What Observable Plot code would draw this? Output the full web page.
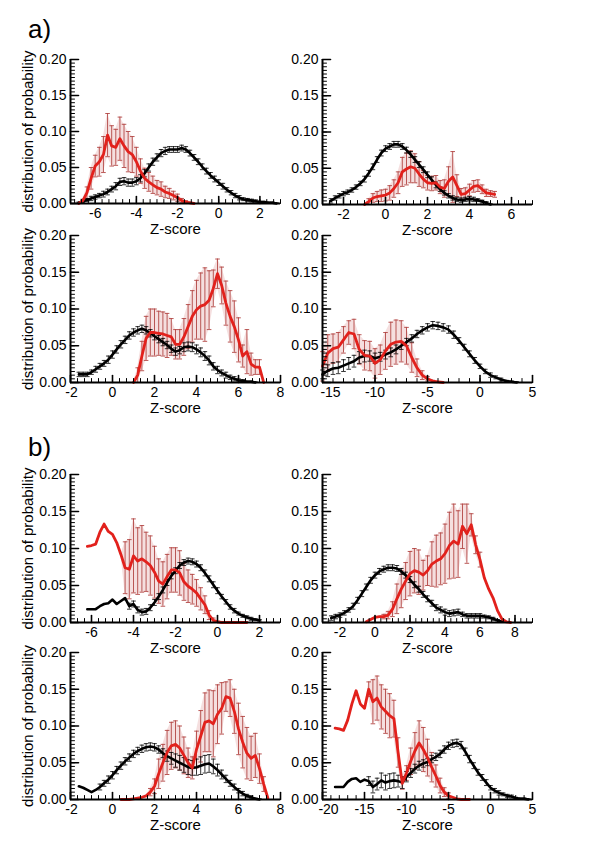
<!DOCTYPE html>
<html><head><meta charset="utf-8">
<script src="https://cdn.jsdelivr.net/npm/d3@7"></script>
<script src="https://cdn.jsdelivr.net/npm/@observablehq/plot@0.6"></script>
<style>
body{margin:0;background:#fff;}
#root{position:relative;width:600px;height:841px;font-family:"Liberation Sans",Arial,Helvetica,sans-serif;overflow:hidden;}
.tag{position:absolute;font-size:26px;line-height:1;left:28px;}
</style>
</head><body><div id="root"><div class="tag" style="top:16px">a)</div><div class="tag" style="top:434px">b)</div></div>
<script>
// [Z-score, probability, error]
const a1Black = [[-6.8,0.001,0.001],[-6.6,0.003,0.002],[-6.4,0.005,0.002],[-6.2,0.007,0.003],[-6.0,0.009,0.003],[-5.8,0.011,0.003],[-5.6,0.013,0.004],[-5.4,0.016,0.004],[-5.2,0.020,0.004],[-5.0,0.024,0.005],[-4.8,0.030,0.005],[-4.6,0.031,0.005],[-4.4,0.029,0.005],[-4.2,0.029,0.005],[-4.0,0.031,0.005],[-3.8,0.035,0.005],[-3.6,0.042,0.005],[-3.4,0.050,0.005],[-3.2,0.058,0.005],[-3.0,0.064,0.005],[-2.8,0.070,0.005],[-2.6,0.073,0.005],[-2.4,0.075,0.004],[-2.2,0.075,0.004],[-2.0,0.075,0.004],[-1.8,0.077,0.004],[-1.6,0.075,0.004],[-1.4,0.070,0.004],[-1.2,0.064,0.004],[-1.0,0.058,0.004],[-0.8,0.051,0.004],[-0.6,0.045,0.004],[-0.4,0.039,0.004],[-0.2,0.034,0.004],[0.0,0.029,0.004],[0.2,0.024,0.004],[0.4,0.019,0.003],[0.6,0.015,0.003],[0.8,0.011,0.003],[1.0,0.008,0.003],[1.2,0.006,0.002],[1.4,0.005,0.002],[1.6,0.004,0.002],[1.8,0.003,0.002],[2.0,0.002,0.001],[2.2,0.002,0.001],[2.4,0.001,0.001],[2.6,0.001,0.001],[2.8,0.000,0.001]];
const a1Red = [[-6.8,0.000,0],[-6.6,0.004,0.002],[-6.4,0.015,0.008],[-6.2,0.035,0.015],[-6.0,0.052,0.015],[-5.8,0.058,0.02],[-5.6,0.068,0.025],[-5.4,0.095,0.03],[-5.2,0.080,0.028],[-5.0,0.078,0.025],[-4.8,0.090,0.03],[-4.6,0.080,0.03],[-4.4,0.072,0.028],[-4.2,0.068,0.025],[-4.0,0.058,0.02],[-3.8,0.045,0.017],[-3.6,0.035,0.014],[-3.4,0.030,0.013],[-3.2,0.026,0.012],[-3.0,0.022,0.01],[-2.8,0.020,0.01],[-2.6,0.016,0.008],[-2.4,0.014,0.007],[-2.2,0.011,0.006],[-2.0,0.008,0.005],[-1.8,0.004,0.003],[-1.6,0.002,0.002],[-1.4,0.001,0.001],[-1.2,0.000,0]];

const a2Black = [[-2.6,0.005,0.003],[-2.4,0.009,0.003],[-2.2,0.012,0.003],[-2.0,0.015,0.003],[-1.8,0.017,0.003],[-1.6,0.020,0.003],[-1.4,0.024,0.003],[-1.2,0.029,0.003],[-1.0,0.035,0.004],[-0.8,0.043,0.004],[-0.6,0.052,0.004],[-0.4,0.062,0.004],[-0.2,0.071,0.004],[0.0,0.077,0.004],[0.2,0.080,0.004],[0.4,0.083,0.004],[0.6,0.083,0.004],[0.8,0.080,0.004],[1.0,0.075,0.004],[1.2,0.069,0.004],[1.4,0.062,0.004],[1.6,0.055,0.004],[1.8,0.048,0.004],[2.0,0.041,0.004],[2.2,0.034,0.004],[2.4,0.027,0.004],[2.6,0.021,0.003],[2.8,0.016,0.003],[3.0,0.012,0.003],[3.2,0.009,0.003],[3.4,0.007,0.003],[3.6,0.006,0.003],[3.8,0.007,0.003],[4.0,0.008,0.003],[4.2,0.007,0.003],[4.4,0.006,0.002],[4.6,0.004,0.002],[4.8,0.002,0.002],[5.0,0.000,0.001]];
const a2Red = [[-1.0,0.000,0],[-0.8,0.004,0.004],[-0.6,0.009,0.006],[-0.4,0.011,0.007],[-0.2,0.012,0.008],[0.0,0.013,0.008],[0.2,0.016,0.01],[0.4,0.022,0.012],[0.6,0.030,0.015],[0.8,0.045,0.02],[1.0,0.049,0.022],[1.2,0.052,0.022],[1.4,0.050,0.02],[1.6,0.042,0.017],[1.8,0.035,0.012],[2.0,0.030,0.01],[2.2,0.029,0.01],[2.4,0.030,0.01],[2.6,0.024,0.009],[2.8,0.022,0.012],[3.0,0.032,0.02],[3.2,0.038,0.035],[3.4,0.026,0.015],[3.6,0.014,0.008],[3.8,0.015,0.008],[4.0,0.020,0.008],[4.2,0.025,0.008],[4.4,0.026,0.008],[4.6,0.021,0.006],[4.8,0.016,0.005],[5.0,0.015,0.004],[5.2,0.014,0.004]];

const a3Black = [[-1.6,0.011,0.003],[-1.4,0.011,0.003],[-1.2,0.011,0.003],[-1.0,0.014,0.003],[-0.8,0.018,0.004],[-0.6,0.022,0.004],[-0.4,0.026,0.004],[-0.2,0.031,0.005],[0.0,0.038,0.005],[0.2,0.045,0.005],[0.4,0.052,0.005],[0.6,0.058,0.005],[0.8,0.064,0.005],[1.0,0.068,0.005],[1.2,0.071,0.005],[1.4,0.073,0.005],[1.6,0.071,0.005],[1.8,0.067,0.005],[2.0,0.063,0.005],[2.2,0.059,0.005],[2.4,0.055,0.005],[2.6,0.051,0.005],[2.8,0.046,0.005],[3.0,0.042,0.005],[3.2,0.044,0.005],[3.4,0.048,0.006],[3.6,0.049,0.006],[3.8,0.048,0.006],[4.0,0.045,0.006],[4.2,0.041,0.006],[4.4,0.036,0.006],[4.6,0.030,0.006],[4.8,0.022,0.005],[5.0,0.017,0.005],[5.2,0.013,0.004],[5.4,0.010,0.004],[5.6,0.007,0.003],[5.8,0.005,0.003],[6.0,0.003,0.002],[6.2,0.002,0.002],[6.4,0.001,0.001],[6.6,0.001,0.001],[6.8,0.000,0.001]];
const a3Red = [[1.0,0.000,0],[1.2,0.010,0.01],[1.4,0.036,0.02],[1.6,0.060,0.03],[1.8,0.068,0.032],[2.0,0.068,0.032],[2.2,0.067,0.03],[2.4,0.066,0.03],[2.6,0.064,0.03],[2.8,0.062,0.025],[3.0,0.052,0.02],[3.2,0.052,0.02],[3.4,0.062,0.025],[3.6,0.076,0.03],[3.8,0.090,0.035],[4.0,0.099,0.04],[4.2,0.104,0.045],[4.4,0.106,0.05],[4.6,0.112,0.04],[4.8,0.128,0.025],[5.0,0.148,0.02],[5.2,0.132,0.025],[5.4,0.108,0.03],[5.6,0.090,0.035],[5.8,0.076,0.035],[6.0,0.058,0.03],[6.2,0.036,0.015],[6.4,0.042,0.03],[6.6,0.025,0.015],[6.8,0.021,0.01],[7.0,0.021,0.01],[7.2,0.000,0]];

const a4Black = [[-15,0.011,0.006],[-14.5,0.016,0.008],[-14,0.019,0.008],[-13.5,0.020,0.008],[-13,0.023,0.008],[-12.5,0.026,0.008],[-12,0.029,0.008],[-11.5,0.034,0.008],[-11,0.036,0.008],[-10.5,0.036,0.007],[-10,0.033,0.007],[-9.5,0.035,0.006],[-9,0.038,0.006],[-8.5,0.041,0.006],[-8,0.045,0.006],[-7.5,0.050,0.005],[-7,0.055,0.005],[-6.5,0.060,0.005],[-6,0.066,0.005],[-5.5,0.071,0.005],[-5,0.075,0.005],[-4.5,0.078,0.005],[-4,0.077,0.005],[-3.5,0.075,0.005],[-3,0.072,0.005],[-2.5,0.065,0.005],[-2,0.057,0.004],[-1.5,0.048,0.004],[-1,0.039,0.004],[-0.5,0.030,0.004],[0,0.022,0.003],[0.5,0.015,0.003],[1,0.010,0.003],[1.5,0.007,0.002],[2,0.004,0.002],[2.5,0.002,0.001],[3,0.001,0.001],[3.5,0.000,0.001]];
const a4Red = [[-15,0.022,0.02],[-14.5,0.040,0.025],[-14,0.046,0.02],[-13.5,0.048,0.02],[-13,0.058,0.018],[-12.5,0.068,0.016],[-12,0.066,0.02],[-11.5,0.045,0.02],[-11,0.037,0.02],[-10.5,0.036,0.02],[-10,0.026,0.02],[-9.5,0.031,0.02],[-9,0.043,0.025],[-8.5,0.052,0.03],[-8,0.055,0.03],[-7.5,0.056,0.028],[-7,0.050,0.025],[-6.5,0.034,0.02],[-6,0.020,0.012],[-5.5,0.010,0.006],[-5,0.005,0.003],[-4.5,0.002,0.001],[-4,0.001,0],[-3.5,0.000,0]];

const b1Black = [[-6.2,0.018,0],[-6.0,0.018,0],[-5.8,0.018,0],[-5.6,0.022,0],[-5.4,0.025,0],[-5.2,0.026,0],[-5.0,0.031,0],[-4.8,0.025,0],[-4.6,0.029,0],[-4.4,0.033,0],[-4.2,0.022,0.004],[-4.0,0.025,0.004],[-3.8,0.017,0.004],[-3.6,0.014,0.004],[-3.4,0.015,0.004],[-3.2,0.020,0.004],[-3.0,0.027,0.004],[-2.8,0.035,0.004],[-2.6,0.044,0.004],[-2.4,0.054,0.004],[-2.2,0.063,0.004],[-2.0,0.070,0.004],[-1.8,0.077,0.004],[-1.6,0.081,0.004],[-1.4,0.083,0.004],[-1.2,0.082,0.004],[-1.0,0.079,0.004],[-0.8,0.074,0.004],[-0.6,0.067,0.004],[-0.4,0.059,0.004],[-0.2,0.051,0.004],[0.0,0.043,0.004],[0.2,0.035,0.003],[0.4,0.028,0.003],[0.6,0.021,0.003],[0.8,0.016,0.003],[1.0,0.012,0.002],[1.2,0.009,0.002],[1.4,0.007,0.002],[1.6,0.005,0.002],[1.8,0.004,0.001],[2.0,0.003,0.001]];
const b1Red = [[-6.2,0.103,0],[-6.0,0.104,0],[-5.8,0.106,0],[-5.6,0.122,0],[-5.4,0.133,0],[-5.2,0.123,0],[-5.0,0.119,0],[-4.8,0.108,0],[-4.6,0.092,0],[-4.4,0.074,0.035],[-4.2,0.072,0.04],[-4.0,0.090,0.05],[-3.8,0.083,0.045],[-3.6,0.086,0.045],[-3.4,0.082,0.04],[-3.2,0.077,0.04],[-3.0,0.068,0.035],[-2.8,0.056,0.03],[-2.6,0.052,0.03],[-2.4,0.062,0.03],[-2.2,0.071,0.03],[-2.0,0.071,0.03],[-1.8,0.067,0.03],[-1.6,0.055,0.025],[-1.4,0.049,0.022],[-1.2,0.045,0.02],[-1.0,0.040,0.018],[-0.8,0.032,0.015],[-0.6,0.024,0.012],[-0.4,0.010,0.006],[-0.2,0.003,0.003],[0.0,0.001,0.001],[0.2,0.000,0],[0.6,0.000,0],[1.0,0.000,0],[1.4,0.000,0]];

const b2Black = [[-2.5,0.006,0.003],[-2.25,0.008,0.003],[-2.0,0.010,0.003],[-1.75,0.013,0.003],[-1.5,0.017,0.003],[-1.25,0.022,0.004],[-1.0,0.030,0.004],[-0.75,0.039,0.004],[-0.5,0.048,0.004],[-0.25,0.057,0.004],[0.0,0.064,0.004],[0.25,0.069,0.004],[0.5,0.072,0.004],[0.75,0.074,0.004],[1.0,0.074,0.004],[1.25,0.073,0.004],[1.5,0.069,0.004],[1.75,0.064,0.004],[2.0,0.058,0.004],[2.25,0.051,0.004],[2.5,0.045,0.004],[2.75,0.038,0.004],[3.0,0.032,0.004],[3.25,0.026,0.004],[3.5,0.020,0.004],[3.75,0.017,0.004],[4.0,0.014,0.004],[4.25,0.012,0.004],[4.5,0.013,0.004],[4.75,0.014,0.004],[5.0,0.011,0.003],[5.25,0.009,0.003],[5.5,0.009,0.003],[5.75,0.009,0.003],[6.0,0.009,0.003],[6.25,0.008,0.002],[6.5,0.007,0.002],[6.75,0.005,0.002],[7.0,0.003,0.001],[7.25,0.001,0.001]];
const b2Red = [[-0.5,0.001,0],[-0.25,0.004,0],[0.0,0.007,0],[0.25,0.008,0],[0.5,0.008,0.003],[0.75,0.010,0.005],[1.0,0.018,0.01],[1.25,0.032,0.02],[1.5,0.045,0.025],[1.75,0.056,0.025],[2.0,0.066,0.03],[2.25,0.070,0.03],[2.5,0.068,0.03],[2.75,0.064,0.02],[3.0,0.070,0.02],[3.25,0.079,0.03],[3.5,0.083,0.035],[3.75,0.086,0.035],[4.0,0.093,0.04],[4.25,0.104,0.045],[4.5,0.110,0.05],[4.75,0.106,0.045],[5.0,0.130,0.03],[5.25,0.120,0.04],[5.5,0.132,0.015],[5.75,0.105,0.012],[6.0,0.085,0.01],[6.25,0.060,0],[6.5,0.045,0],[6.75,0.033,0],[7.0,0.016,0],[7.25,0.005,0],[7.5,0.001,0],[7.75,0.000,0]];

const b3Black = [[-1.6,0.018,0],[-1.4,0.016,0],[-1.2,0.013,0],[-1.0,0.010,0],[-0.8,0.013,0],[-0.6,0.017,0.004],[-0.4,0.022,0.004],[-0.2,0.027,0.005],[0.0,0.033,0.005],[0.2,0.040,0.005],[0.4,0.046,0.005],[0.6,0.052,0.005],[0.8,0.057,0.005],[1.0,0.062,0.005],[1.2,0.066,0.005],[1.4,0.069,0.005],[1.6,0.071,0.005],[1.8,0.072,0.005],[2.0,0.071,0.005],[2.2,0.068,0.005],[2.4,0.063,0.006],[2.6,0.059,0.007],[2.8,0.056,0.008],[3.0,0.053,0.009],[3.2,0.050,0.01],[3.4,0.047,0.01],[3.6,0.044,0.01],[3.8,0.043,0.01],[4.0,0.044,0.011],[4.2,0.046,0.012],[4.4,0.048,0.012],[4.6,0.049,0.012],[4.8,0.045,0.01],[5.0,0.040,0.008],[5.2,0.034,0.006],[5.4,0.028,0.005],[5.6,0.022,0.004],[5.8,0.017,0.004],[6.0,0.012,0.003],[6.2,0.008,0.003],[6.4,0.005,0.002],[6.6,0.003,0.002],[6.8,0.001,0.001],[7.0,0.000,0.001]];
const b3Red = [[0.4,0.000,0],[0.6,0.000,0],[0.8,0.000,0],[1.0,0.001,0],[1.2,0.002,0],[1.4,0.003,0],[1.6,0.005,0],[1.8,0.010,0.005],[2.0,0.018,0.01],[2.2,0.035,0.02],[2.4,0.050,0.025],[2.6,0.064,0.03],[2.8,0.073,0.032],[3.0,0.075,0.032],[3.2,0.070,0.03],[3.4,0.060,0.025],[3.6,0.050,0.02],[3.8,0.043,0.015],[4.0,0.068,0.025],[4.2,0.086,0.035],[4.4,0.105,0.04],[4.6,0.107,0.042],[4.8,0.103,0.045],[5.0,0.116,0.04],[5.2,0.124,0.035],[5.4,0.140,0.02],[5.6,0.138,0.025],[5.8,0.120,0.03],[6.0,0.096,0.035],[6.2,0.078,0.035],[6.4,0.063,0.035],[6.6,0.056,0.03],[6.8,0.060,0.03],[7.0,0.042,0.02],[7.2,0.021,0.01],[7.4,0.002,0]];

const b4Black = [[-18.5,0.017,0],[-18,0.017,0],[-17.5,0.017,0],[-17,0.024,0],[-16.5,0.028,0],[-16,0.029,0],[-15.5,0.024,0],[-15,0.027,0],[-14.5,0.025,0.006],[-14,0.017,0.008],[-13.5,0.021,0.008],[-13,0.026,0.01],[-12.5,0.023,0.01],[-12,0.025,0.01],[-11.5,0.026,0.01],[-11,0.025,0.008],[-10.5,0.023,0.008],[-10,0.031,0.007],[-9.5,0.036,0.006],[-9,0.042,0.006],[-8.5,0.046,0.006],[-8,0.049,0.005],[-7.5,0.051,0.005],[-7,0.055,0.005],[-6.5,0.058,0.005],[-6,0.062,0.005],[-5.5,0.068,0.005],[-5,0.073,0.005],[-4.5,0.076,0.005],[-4,0.077,0.005],[-3.5,0.074,0.005],[-3,0.065,0.005],[-2.5,0.055,0.005],[-2,0.046,0.004],[-1.5,0.037,0.004],[-1,0.030,0.004],[-0.5,0.023,0.004],[0,0.016,0.003],[0.5,0.012,0.003],[1,0.009,0.003],[1.5,0.007,0.002],[2,0.005,0.002],[2.5,0.004,0.002],[3,0.002,0.001],[3.5,0.001,0.001],[4,0.001,0.001],[4.5,0.000,0.001]];
const b4Red = [[-18.5,0.097,0],[-18,0.096,0],[-17.5,0.094,0],[-17,0.108,0],[-16.5,0.130,0],[-16,0.148,0],[-15.5,0.130,0],[-15,0.124,0],[-14.5,0.150,0.01],[-14,0.133,0.03],[-13.5,0.138,0.03],[-13,0.126,0.03],[-12.5,0.120,0.03],[-12,0.114,0.03],[-11.5,0.110,0.025],[-11,0.064,0.02],[-10.5,0.022,0.008],[-10,0.036,0.01],[-9.5,0.052,0.018],[-9,0.066,0.025],[-8.5,0.077,0.03],[-8,0.068,0.03],[-7.5,0.057,0.025],[-7,0.044,0.02],[-6.5,0.032,0.015],[-6,0.019,0.01],[-5.5,0.010,0.006],[-5,0.005,0.004],[-4.5,0.003,0],[-4,0.001,0],[-3.5,0.000,0],[-3,0.000,0],[-2.5,0.000,0]];

// axis tick labels
const yTickLabels = [0, 0.05, 0.10, 0.15, 0.20];
const a1Ticks = [-6, -4, -2, 0, 2];
const a2Ticks = [-2, 0, 2, 4, 6];
const a3Ticks = [-2, 0, 2, 4, 6, 8];
const a4Ticks = [-15, -10, -5, 0, 5];
const b1Ticks = [-6, -4, -2, 0, 2];
const b2Ticks = [-2, 0, 2, 4, 6, 8];
const b3Ticks = [-2, 0, 2, 4, 6, 8];
const b4Ticks = [-20, -15, -10, -5, 0, 5];

const FONT = '"Liberation Sans", Arial, Helvetica, sans-serif';
const RED = "#e2211c", RED_ERR = "#b24644", RED_FILL = "#ecc4c4";
const cap = {draw(ctx) { ctx.moveTo(-2.3, 0); ctx.lineTo(2.3, 0); }};
const tickShape = {draw(ctx, l) { ctx.moveTo(0, 0); ctx.lineTo(0, -l); }};

function minorTicks(d, per) {
  const out = [];
  for (let k = Math.ceil(d[0] * per - 1e-9); k <= Math.floor(d[1] * per + 1e-9); k++) out.push(k / per);
  return out;
}
const yMinor = minorTicks([0, 0.2], 200);

function errMarks(data, color, width) {
  const e = data.filter(d => d[2] > 0);
  return [
    Plot.ruleX(e, {x: d => d[0], y1: d => Math.max(0, d[1] - d[2]), y2: d => d[1] + d[2], stroke: color, strokeWidth: width}),
    Plot.dot(e, {x: d => d[0], y: d => d[1] + d[2], symbol: cap, r: 3, stroke: color, strokeWidth: width, fill: "none"}),
    Plot.dot(e, {x: d => d[0], y: d => Math.max(0, d[1] - d[2]), symbol: cap, r: 3, stroke: color, strokeWidth: width, fill: "none"})
  ];
}

function tickMarks(xd, xMajor, per) {
  const x0 = xd[0];
  return [
    Plot.vector(yMinor, {x: () => x0, y: d => d, length: 4, rotate: 90, anchor: "start", shape: tickShape, stroke: "#000", strokeWidth: 1}),
    Plot.vector(yTickLabels, {x: () => x0, y: d => d, length: 8, rotate: 90, anchor: "start", shape: tickShape, stroke: "#000", strokeWidth: 1.6}),
    Plot.vector(minorTicks(xd, per), {x: d => d, y: () => 0, length: 4, rotate: 0, anchor: "start", shape: tickShape, stroke: "#000", strokeWidth: 1}),
    Plot.vector(xMajor, {x: d => d, y: () => 0, length: 7, rotate: 0, anchor: "start", shape: tickShape, stroke: "#000", strokeWidth: 1.6})
  ];
}

function panel({left, top, h, xd, ticks, per, black, red, ylabel, firstDx = 0}) {
  const mL = ylabel ? 60 : 32, mR = 14, mT = 10, mB = 42;
  const chart = Plot.plot({
    width: mL + 210 + mR, height: mT + h + mB,
    marginLeft: mL, marginRight: mR, marginTop: mT, marginBottom: mB,
    x: {domain: xd}, y: {domain: [0, 0.2]},
    style: {background: "transparent", fontFamily: FONT, fontSize: "14px", overflow: "visible"},
    marks: [
      Plot.areaY(red, {x: d => d[0], y1: d => Math.max(0, d[1] - d[2]), y2: d => d[1] + d[2], fill: RED_FILL, fillOpacity: 0.55}),
      ...errMarks(red, RED_ERR, 0.9),
      ...errMarks(black, "#000", 0.8),
      Plot.lineY(black, {x: d => d[0], y: d => d[1], stroke: "#000", strokeWidth: 2.6}),
      Plot.lineY(red, {x: d => d[0], y: d => d[1], stroke: RED, strokeWidth: 2.8}),
      ...tickMarks(xd, ticks, per),
      Plot.axisY({ticks: yTickLabels, tickSize: 0, tickPadding: 4, tickFormat: d3.format(".2f"), fontSize: 14, label: null}),
      Plot.axisX({ticks: ticks.slice(1), tickSize: 0, tickPadding: 5, tickFormat: d => String(d), fontSize: 14, label: null}),
      Plot.axisX({ticks: ticks.slice(0, 1), tickSize: 0, tickPadding: 5, dx: firstDx, tickFormat: d => String(d), fontSize: 14, label: null}),
      Plot.ruleY([0], {stroke: "#000", strokeWidth: 2}),
      Plot.ruleX([xd[0]], {stroke: "#000", strokeWidth: 2}),
      Plot.text(["Z-score"], {frameAnchor: "bottom", dy: 26, lineAnchor: "middle", fontSize: 15}),
      ...(ylabel ? [Plot.text(["distribution of probability"], {frameAnchor: "left", rotate: -90, dx: -42, textAnchor: "middle", lineAnchor: "middle", fontSize: 15})] : [])
    ]
  });
  chart.style.position = "absolute";
  chart.style.left = (left - mL) + "px";
  chart.style.top = (top - mT) + "px";
  document.getElementById("root").appendChild(chart);
}

panel({left: 70, top: 59, h: 144, xd: [-7.2, 3], ticks: a1Ticks, per: 3, black: a1Black, red: a1Red, ylabel: true});
panel({left: 322, top: 59, h: 145, xd: [-3, 7], ticks: a2Ticks, per: 3, black: a2Black, red: a2Red, ylabel: false});
panel({left: 70, top: 235, h: 147, xd: [-2, 8], ticks: a3Ticks, per: 3, black: a3Black, red: a3Red, ylabel: true, firstDx: 1});
panel({left: 322, top: 235, h: 147, xd: [-15, 5], ticks: a4Ticks, per: 1, black: a4Black, red: a4Red, ylabel: false, firstDx: 8});
panel({left: 70, top: 474, h: 148, xd: [-7, 3], ticks: b1Ticks, per: 3, black: b1Black, red: b1Red, ylabel: true});
panel({left: 322, top: 474, h: 148, xd: [-3, 9], ticks: b2Ticks, per: 3, black: b2Black, red: b2Red, ylabel: false});
panel({left: 70, top: 652, h: 147, xd: [-2, 8], ticks: b3Ticks, per: 3, black: b3Black, red: b3Red, ylabel: true, firstDx: 1});
panel({left: 322, top: 652, h: 147, xd: [-20, 5], ticks: b4Ticks, per: 1, black: b4Black, red: b4Red, ylabel: false, firstDx: 6});
</script>
</body></html>
